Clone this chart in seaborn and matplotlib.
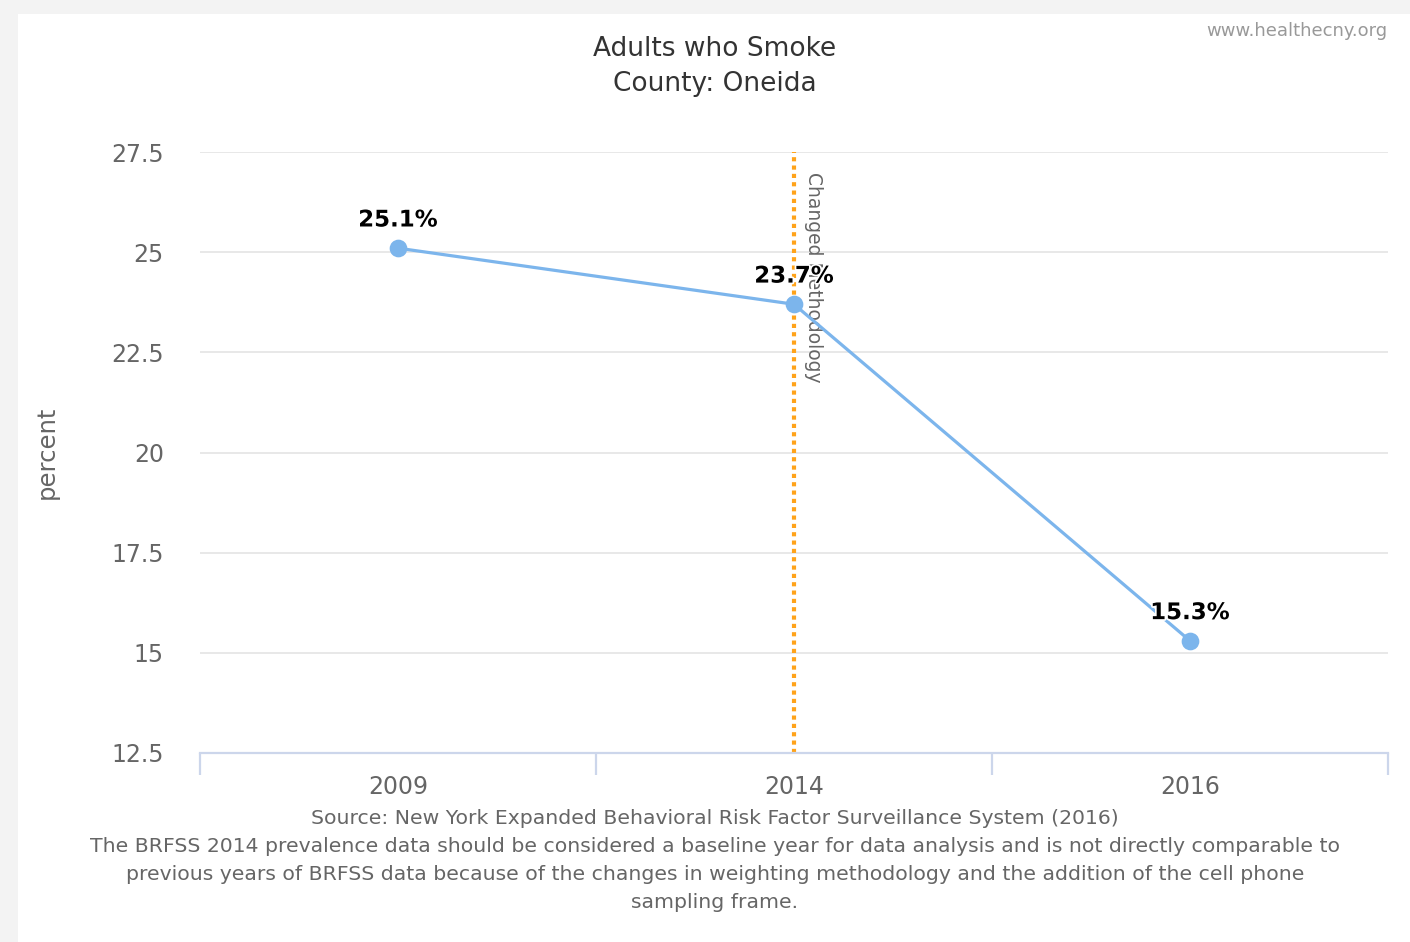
import matplotlib
matplotlib.use("Agg")
import matplotlib.pyplot as plt
import matplotlib.patheffects as pe
from matplotlib.patches import Rectangle
import seaborn as sns
import pandas as pd

years = ["2009", "2014", "2016"]
values = [25.1, 23.7, 15.3]
labels = ["25.1%", "23.7%", "15.3%"]
yticks = [12.5, 15, 17.5, 20, 22.5, 25, 27.5]
ytick_labels = ["12.5", "15", "17.5", "20", "22.5", "25", "27.5"]

title_lines = ["Adults who Smoke", "County: Oneida"]
footer_lines = [
    "Source: New York Expanded Behavioral Risk Factor Surveillance System (2016)",
    "The BRFSS 2014 prevalence data should be considered a baseline year for data analysis and is not directly comparable to",
    "previous years of BRFSS data because of the changes in weighting methodology and the addition of the cell phone",
    "sampling frame.",
]
credit = "www.healthecny.org"
plot_line_label = "Changed Methodology"
plot_line_at = "2014"

sns.set_theme(style="white")
plt.rcParams["font.family"] = ["DejaVu Sans"]

W, H = 1410, 942
fig = plt.figure(figsize=(W / 100, H / 100), dpi=100, facecolor="#f3f3f3")
fig.patches.append(Rectangle((18 / W, 0), 1 - 18 / W, 1 - 14 / H,
                             transform=fig.transFigure, facecolor="white",
                             edgecolor="none", zorder=-10))

ax = fig.add_axes([200 / W, 1 - 753 / H, (1388 - 200) / W, (753 - 152) / H])
ax.set_facecolor("none")

df = pd.DataFrame({"year": years, "value": values})
sns.pointplot(data=df, x="year", y="value", order=years, color="#7cb5ec",
              markers="o", linewidth=2.3, markersize=11, ax=ax, zorder=3,
              errorbar=None)

ax.set_xlim(-0.5, len(years) - 0.5)
ax.set_ylim(12.5, 27.5)
ax.set_yticks(yticks)
ax.set_yticklabels(ytick_labels)
ax.yaxis.grid(True, color="#e6e6e6", linewidth=1.3)
ax.xaxis.grid(False)
ax.set_axisbelow(True)

for s in ["top", "right", "left"]:
    ax.spines[s].set_visible(False)
ax.spines["bottom"].set_color("#ccd6eb")
ax.spines["bottom"].set_linewidth(1.6)

ax.set_xticks(range(len(years)))
ax.set_xticklabels(years)
ax.set_xticks([i - 0.5 for i in range(len(years) + 1)], minor=True)
ax.tick_params(axis="x", which="major", bottom=True, length=0, pad=16,
               labelsize=17, labelcolor="#666666")
ax.tick_params(axis="x", which="minor", bottom=True, length=16, width=1.6,
               color="#ccd6eb", direction="out")
ax.tick_params(axis="y", length=0, pad=26, labelsize=17, labelcolor="#666666")
ax.set_xlabel("")
ax.set_ylabel("percent", fontsize=17.5, color="#666666", labelpad=38)

# plot line
xi = years.index(plot_line_at)
ax.axvline(xi, color="#ffa31a", linewidth=3, linestyle=(0, (1, 1)), zorder=2)
ax.text(xi + 0.025, 27.0, plot_line_label, rotation=-90, ha="left", va="top",
        fontsize=13.5, color="#666666", zorder=2)

# data labels
for i, (v, lab) in enumerate(zip(values, labels)):
    ax.annotate(lab, (i, v), xytext=(0, 12), textcoords="offset points",
                ha="center", va="bottom", fontsize=16.5, fontweight="bold",
                color="black", zorder=5,
                path_effects=[pe.withStroke(linewidth=2.5, foreground="white")])

# title
fig.text(715 / W, 1 - 49 / H, title_lines[0], ha="center", va="center",
         fontsize=19, color="#333333")
fig.text(715 / W, 1 - 84 / H, title_lines[1], ha="center", va="center",
         fontsize=19, color="#333333")

# credit
fig.text(1387 / W, 1 - 31 / H, credit, ha="right", va="center",
         fontsize=13, color="#999999")

# footer
for k, line in enumerate(footer_lines):
    fig.text(715 / W, 1 - (819 + 28 * k) / H, line, ha="center", va="center",
             fontsize=14.7, color="#666666")

fig.savefig("out.png", dpi=100, facecolor=fig.get_facecolor())
